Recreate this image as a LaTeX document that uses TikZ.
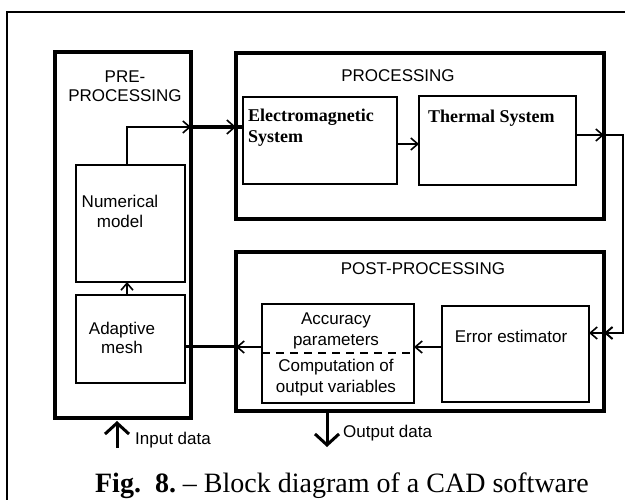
\documentclass[tikz,border=0pt]{standalone}
\usepackage{fontspec}
\setmainfont{Liberation Serif}
\setsansfont{Liberation Sans}
\usetikzlibrary{arrows.meta}
\begin{document}
\begin{tikzpicture}[x=1pt,y=-1pt,
 big/.style={draw, line width=4pt, inner sep=0pt, outer sep=0pt, anchor=north west},
 blk/.style={draw, line width=1.8pt, inner sep=0pt, outer sep=0pt, anchor=north west},
 lbl/.style={inner sep=0pt, anchor=base, font=\sffamily\fontsize{17}{19}\selectfont},
 blbl/.style={inner sep=0pt, anchor=base west, font=\rmfamily\bfseries\fontsize{18}{21}\selectfont},
 conn/.style={line width=1.6pt},
 tip/.style={-{Straight Barb[length=7pt,width=12pt]}, line width=1.6pt},
 bigtip/.style={-{Straight Barb[length=11pt,width=24pt]}, line width=3pt},
]
\useasboundingbox (0,0) rectangle (625,500);
\clip (0,0) rectangle (625,500);
% outer frame
\draw[line width=2pt] (7,530) -- (7,12) -- (640,12);
% big blocks
\node[big, minimum width=136pt, minimum height=366pt] (pre) at (55,52) {};
\node[big, minimum width=368pt, minimum height=166pt] (proc) at (236,53) {};
\node[big, minimum width=368pt, minimum height=159pt] (post) at (236,252) {};
% inner blocks
\node[blk, minimum width=109pt, minimum height=117pt] (num) at (76,165) {};
\node[blk, minimum width=109pt, minimum height=88pt] (adapt) at (76,295) {};
\node[blk, minimum width=154pt, minimum height=87pt] (em) at (243,97) {};
\node[blk, minimum width=157pt, minimum height=89pt] (th) at (419,96) {};
\node[blk, minimum width=147pt, minimum height=96pt] (err) at (442,306) {};
\node[blk, minimum width=152pt, minimum height=99pt] (acc) at (262,304) {};
% texts
\node[lbl] (tpre1) at (125,83) {PRE-};
\node[lbl] (tpre2) at (125,102) {PROCESSING};
\node[lbl] (tproc) at (398,82) {PROCESSING};
\node[lbl] (tpost) at (423,275) {POST-PROCESSING};
\node[lbl] (tnum1) at (120,208) {Numerical};
\node[lbl] (tnum2) at (120,228) {model};
\node[lbl] (tad1) at (122,335) {Adaptive};
\node[lbl] (tad2) at (122,354) {mesh};
\node[blbl] (tem1) at (248,122) {Electromagnetic};
\node[blbl] (tem2) at (248,143) {System};
\node[blbl] (tth) at (428,123) {Thermal System};
\node[lbl] (terr) at (511,343) {Error estimator};
\node[lbl] (tacc1) at (336,325) {Accuracy};
\node[lbl] (tacc2) at (336,345) {parameters};
\node[lbl] (tacc3) at (336,372) {Computation of};
\node[lbl] (tacc4) at (336,392) {output variables};
\node[lbl, anchor=base west] (tin) at (135,444) {Input data};
\node[lbl, anchor=base west] (tout) at (343,437) {Output data};
\node[inner sep=0pt, anchor=base, font=\rmfamily\fontsize{28}{30}\selectfont] (cap) at (342,492)
  {\textbf{Fig.~~8.}~– Block diagram of a CAD software};
% dashed separator
\draw[line width=1.6pt, dash pattern=on 8pt off 6pt] (acc.west |- 0,353) -- (acc.east |- 0,353);
% connectors
\coordinate (j1) at (pre.east |- 0,127);
\coordinate (j2) at (proc.west |- 0,127);
\draw[tip] (num.north -| 127,0) |- (j1);
\draw[line width=3.5pt, -{Straight Barb[length=8pt,width=14pt,line width=1.6pt]}] (j1) -- (j2);
\draw[line width=3.5pt] (j2) -- (em.west |- j2);
\draw[tip] (em.east |- 0,144) -- (th.west |- 0,144);
\coordinate (j3) at (proc.east |- 0,135);
\coordinate (c1) at (623,135);
\coordinate (c2) at (623,333);
\coordinate (j4) at (post.east |- 0,333);
\draw[tip] (th.east |- j3) -- (j3);
\draw[tip, line width=2pt] (j3) -- (c1) -- (c2) -- (j4);
\draw[tip] (j4) -- (err.east |- j4);
\draw[tip] (err.west |- 0,347) -- (acc.east |- 0,347);
\coordinate (j5) at (post.west |- 0,347);
\draw[tip] (acc.west |- j5) -- (j5);
\draw[line width=3pt] (j5) -- (adapt.east |- j5);
\draw[tip] (adapt.north -| 127,0) -- (num.south -| 127,0);
\coordinate (in0) at (117,448);
\draw[bigtip] (in0) -- (117,421);
\coordinate (out0) at (327,447);
\draw[bigtip] (post.south -| out0) -- (out0);
\end{tikzpicture}
\end{document}
